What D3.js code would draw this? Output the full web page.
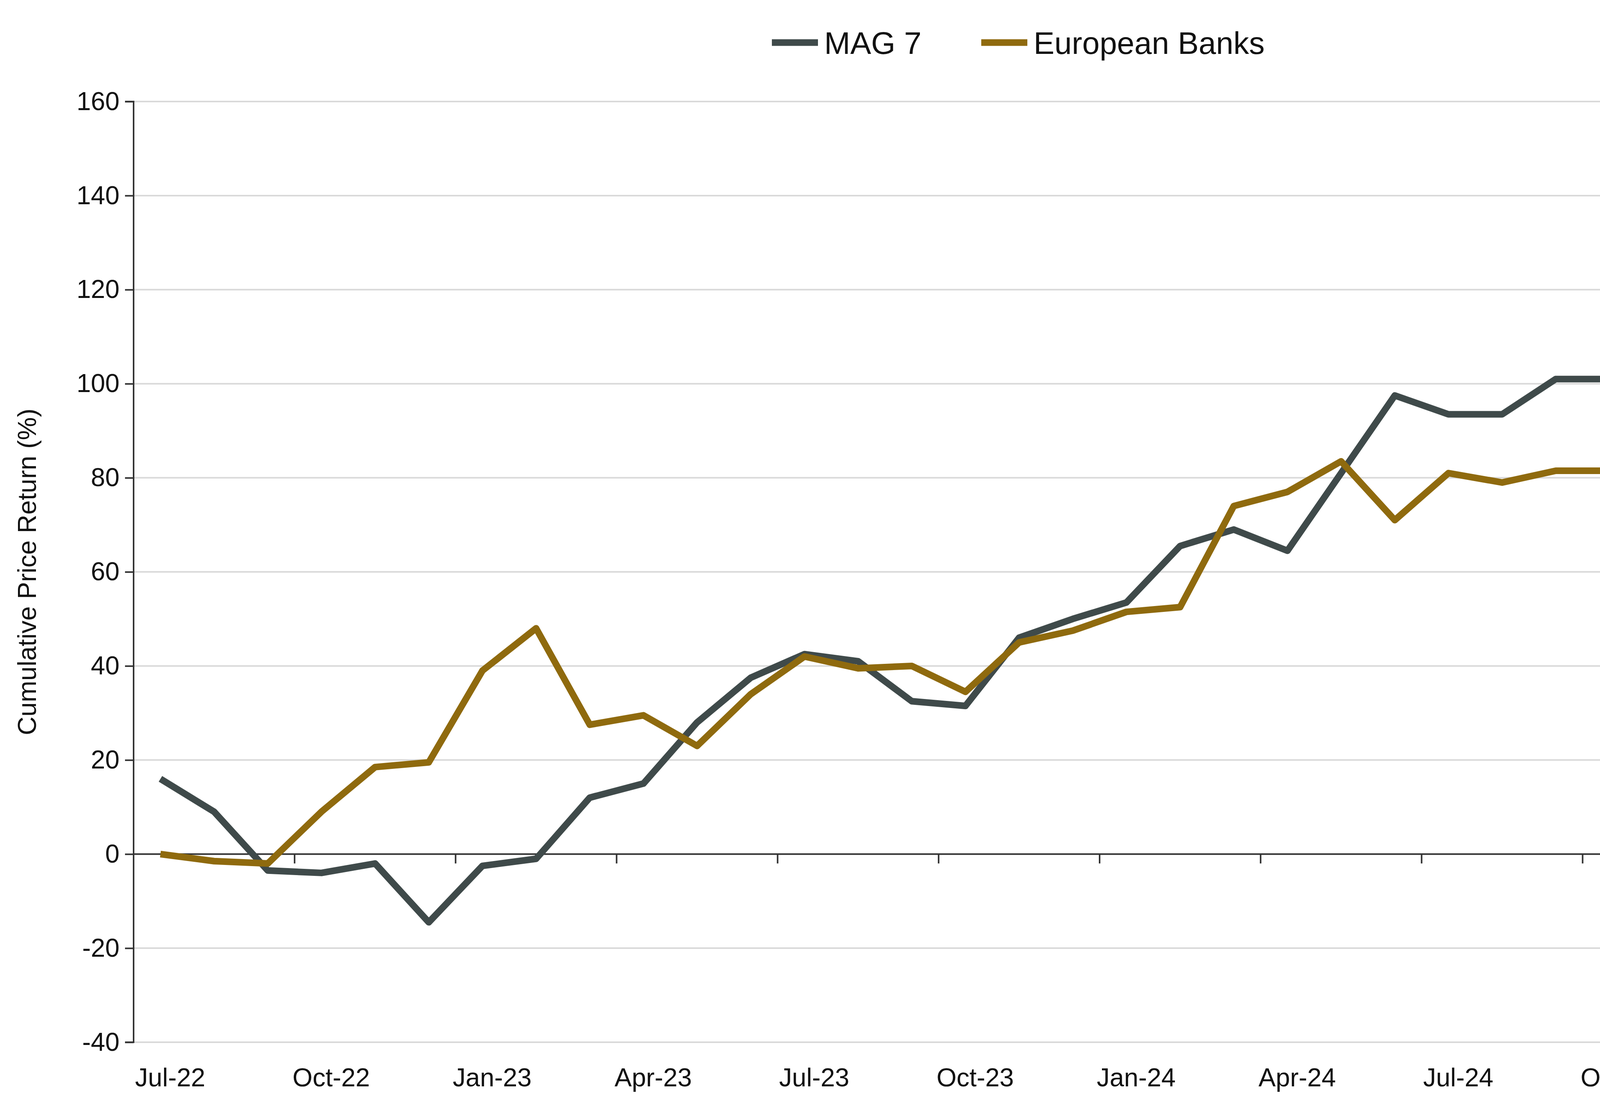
<!DOCTYPE html>
<html><head><meta charset="utf-8">
<script src="https://cdn.jsdelivr.net/npm/d3@7"></script>
<style>body{margin:0;background:#fff;overflow:hidden}text{font-family:"Liberation Sans",Arial,sans-serif}</style>
</head><body>
<svg id="c" width="5332" height="2840"></svg>
<script>
const months=["Jul-22","Aug-22","Sep-22","Oct-22","Nov-22","Dec-22","Jan-23","Feb-23","Mar-23","Apr-23","May-23","Jun-23","Jul-23","Aug-23","Sep-23","Oct-23","Nov-23","Dec-23","Jan-24","Feb-24","Mar-24","Apr-24","May-24","Jun-24","Jul-24","Aug-24","Sep-24","Oct-24","Nov-24","Dec-24","Jan-25","Feb-25","Mar-25","Apr-25","May-25","Jun-25"];
const mag7=[16,9,-3.5,-4,-2,-14.5,-2.5,-1,12,15,28,37.5,42.5,41,32.5,31.5,46,50,53.5,65.5,69,64.5,81,97.5,93.5,93.5,101,101,113,121.5,121,109,88.5,88.5,110.5,126];
const banks=[0,-1.5,-2,9,18.5,19.5,39,48,27.5,29.5,23,34,42,39.5,40,34.5,45,47.5,51.5,52.5,74,77,83.5,71,81,79,81.5,81.5,74,82.5,102,130,132.5,131,151.5,151];
const yTicks=[-40,-20,0,20,40,60,80,100,120,140,160];
const series=[{name:"MAG 7",values:mag7,color:"#3f4a4a"},{name:"European Banks",values:banks,color:"#8f6a0e"}];

const svg=d3.select("#c");
const L=342,R=5288,T=260,B=2669;
const x=d3.scaleBand().domain(months).range([L,R]);
const y=d3.scaleLinear().domain([-40,160]).range([B,T]);
const fs=66;

svg.append("g").selectAll("line").data(yTicks).join("line")
 .attr("x1",L).attr("x2",R).attr("y1",d=>y(d)).attr("y2",d=>y(d))
 .attr("stroke","#d9d9d9").attr("stroke-width",4);

const ya=svg.append("g").attr("transform",`translate(${L},0)`)
 .call(d3.axisLeft(y).tickValues(yTicks).tickFormat(d=>String(d)).tickSize(22).tickPadding(14));
ya.selectAll("path,line").attr("stroke","#333").attr("stroke-width",4);
ya.selectAll("text").attr("font-size",fs).attr("fill","#111").attr("font-family","Liberation Sans, Arial");
ya.select(".domain").attr("d",`M-22,${T}H0V${B}H-22`);

const xg=svg.append("g");
xg.append("line").attr("x1",L).attr("x2",R).attr("y1",y(0)).attr("y2",y(0)).attr("stroke","#333").attr("stroke-width",4);
const tickIdx=months.map((m,i)=>i).filter(i=>i%3===0);
xg.selectAll(".tk").data(tickIdx.concat([36])).join("line")
 .attr("x1",i=>i<36?x(months[i]):R).attr("x2",i=>i<36?x(months[i]):R)
 .attr("y1",y(0)).attr("y2",y(0)+24).attr("stroke","#333").attr("stroke-width",4);
xg.selectAll("text").data(tickIdx).join("text")
 .attr("x",i=>x(months[i])+x.bandwidth()/2+25).attr("y",2782)
 .attr("text-anchor","middle").attr("font-size",fs).attr("fill","#111").text(i=>months[i]);

svg.append("text").attr("transform",`translate(92,${(T+B)/2}) rotate(-90)`)
 .attr("text-anchor","middle").attr("font-size",fs).attr("fill","#111").text("Cumulative Price Return (%)");

const line=d3.line().x((d,i)=>x(months[i])+x.bandwidth()/2).y(d=>y(d));
svg.selectAll(".s").data(series).join("path")
 .attr("d",d=>line(d.values)).attr("fill","none").attr("stroke",d=>d.color)
 .attr("stroke-width",17).attr("stroke-linejoin","round");

const lg=[{s:series[0],x:1976},{s:series[1],x:2512}];
lg.forEach(o=>{
 svg.append("line").attr("x1",o.x).attr("x2",o.x+118).attr("y1",109).attr("y2",109).attr("stroke",o.s.color).attr("stroke-width",17);
 svg.append("text").attr("x",o.x+134).attr("y",109).attr("dy","0.36em").attr("font-size",80).attr("fill","#111").text(o.s.name);
});
</script>
</body></html>
